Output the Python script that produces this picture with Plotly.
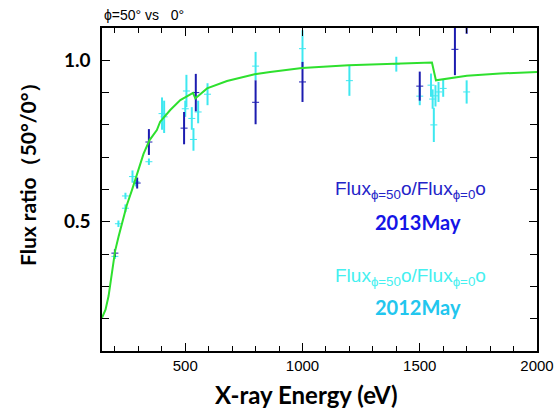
import plotly.graph_objects as go

# ---- data ----
blue_x = [200, 295, 345, 495, 545, 800, 1000, 1500, 1650, 1700]
blue_y = [0.403, 0.62, 0.747, 0.79, 0.90, 0.87, 0.933, 0.92, 1.034, 1.15]
blue_err = [0.012, 0.017, 0.04, 0.05, 0.058, 0.068, 0.062, 0.045, 0.08, 0.068]

cyan_x = [200, 215, 245, 245, 275, 290, 345, 401, 410, 500, 505, 528, 535, 555, 595,
          800, 1000, 1200, 1400, 1500, 1548, 1555, 1560, 1567, 1580, 1600, 1700]
cyan_y = [0.393, 0.494, 0.58, 0.542, 0.64, 0.624, 0.686, 0.835, 0.825, 0.85, 0.905, 0.82, 0.755, 0.84, 0.895,
          0.982, 1.036, 0.937, 0.988, 0.889, 0.923, 0.88, 0.80, 0.89, 0.902, 0.913, 0.902]
cyan_err = [0.008, 0.01, 0.01, 0.012, 0.019, 0.015, 0.01, 0.05, 0.05, 0.025, 0.05, 0.035, 0.035, 0.035, 0.034,
            0.044, 0.057, 0.047, 0.023, 0.028, 0.036, 0.03, 0.053, 0.033, 0.031, 0.026, 0.036]

model_x = [145, 160, 173, 187, 201, 216, 230, 251, 273, 294, 322, 348, 379, 393, 436, 479, 533, 543,
           593, 678, 796, 862, 998, 1196, 1398, 1552, 1569, 1701, 1843, 2000]
model_y = [0.203, 0.228, 0.27, 0.342, 0.41, 0.455, 0.496, 0.552, 0.599, 0.65, 0.71, 0.753, 0.784, 0.81,
           0.846, 0.877, 0.899, 0.882, 0.913, 0.936, 0.957, 0.964, 0.976, 0.985, 0.99, 0.993, 0.938,
           0.952, 0.959, 0.964]

BLUE = "#1c1cb0"
CYAN = "#3ee8f0"
GREEN = "#2ee02e"

fig = go.Figure()

fig.add_trace(go.Scatter(
    x=cyan_x, y=cyan_y, mode="markers",
    marker=dict(symbol="line-ew", size=5, color=CYAN, line=dict(width=1, color=CYAN)),
    error_y=dict(type="data", array=cyan_err, visible=True, width=0, thickness=2, color=CYAN),
    showlegend=False))

fig.add_trace(go.Scatter(
    x=blue_x, y=blue_y, mode="markers",
    marker=dict(symbol="line-ew", size=5, color=BLUE, line=dict(width=1, color=BLUE)),
    error_y=dict(type="data", array=blue_err, visible=True, width=0, thickness=2, color=BLUE),
    showlegend=False))

fig.add_trace(go.Scatter(
    x=model_x, y=model_y, mode="lines",
    line=dict(color=GREEN, width=2), showlegend=False))

axis_common = dict(
    showline=True, linecolor="black", linewidth=1.5, mirror="ticks",
    ticks="inside", tickcolor="black", tickwidth=1.2, showgrid=False, zeroline=False,
    automargin=False,
)

fig.update_xaxes(
    range=[145, 2000], tick0=0, dtick=500, ticklen=8,
    minor=dict(dtick=100, ticks="inside", ticklen=5, tickcolor="black", tickwidth=1.2),
    tickfont=dict(family="Liberation Sans, Arial", size=15, color="black"),
    **axis_common)

fig.update_yaxes(
    range=[0.1, 1.1], tick0=0, dtick=0.5, tickformat=".1f", ticklen=8,
    minor=dict(dtick=0.1, ticks="inside", ticklen=7, tickcolor="black", tickwidth=1.2),
    tickfont=dict(family="Lato, Open Sans", size=19, color="black", weight="bold"),
    ticklabelstandoff=6,
    **axis_common)

PW = 435.0
PH = 323.0

fig.update_layout(
    width=557, height=413,
    margin=dict(l=102, r=20, t=28, b=62),
    paper_bgcolor="white", plot_bgcolor="white",
    annotations=[
        dict(text="ϕ=50° vs   0°", x=0, y=1, xref="paper", yref="paper",
             xanchor="left", yanchor="bottom", yshift=3, showarrow=False,
             font=dict(family="Liberation Sans, Arial", size=14, color="black")),
        dict(text="X-ray Energy (eV)", x=(306 - 102) / PW, y=(351 - 394) / PH, xref="paper", yref="paper",
             xanchor="center", yanchor="middle", showarrow=False,
             font=dict(family="Lato, Open Sans", size=24, color="black", weight="bold")),
        dict(text="Flux ratio（50°/0°）", x=(27 - 102) / PW, y=(351 - 169) / PH, xref="paper", yref="paper",
             xanchor="center", yanchor="middle", textangle=-90, showarrow=False,
             font=dict(family="Lato, Open Sans", size=21, color="black", weight="bold")),
        dict(text="Flux<sub>ϕ=50</sub>o/Flux<sub>ϕ=0</sub>o", x=(410 - 102) / PW, y=(351 - 190) / PH,
             xref="paper", yref="paper", xanchor="center", yanchor="middle", showarrow=False,
             font=dict(family="Liberation Sans, Arial", size=19, color="#2323c8")),
        dict(text="2013May", x=(418 - 102) / PW, y=(351 - 222) / PH,
             xref="paper", yref="paper", xanchor="center", yanchor="middle", showarrow=False,
             font=dict(family="Lato, Open Sans", size=20, color="#1414e6", weight="bold")),
        dict(text="Flux<sub>ϕ=50</sub>o/Flux<sub>ϕ=0</sub>o", x=(410 - 102) / PW, y=(351 - 277) / PH,
             xref="paper", yref="paper", xanchor="center", yanchor="middle", showarrow=False,
             font=dict(family="Liberation Sans, Arial", size=19, color="#44f0f0")),
        dict(text="2012May", x=(418 - 102) / PW, y=(351 - 307) / PH,
             xref="paper", yref="paper", xanchor="center", yanchor="middle", showarrow=False,
             font=dict(family="Lato, Open Sans", size=20, color="#22c6ee", weight="bold")),
    ],
)

fig.write_html("out.html")
